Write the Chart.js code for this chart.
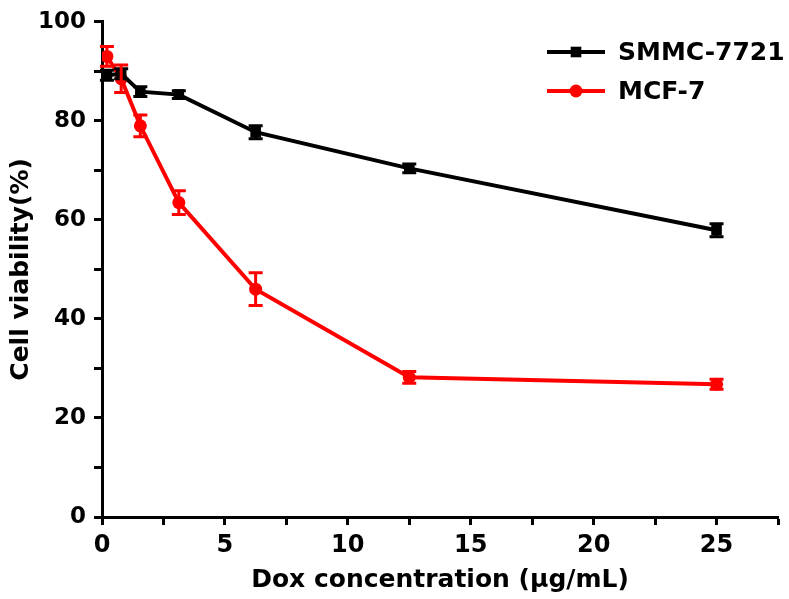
<!DOCTYPE html>
<html>
<head>
<meta charset="utf-8">
<script src="https://cdn.jsdelivr.net/npm/chart.js@4.4.1/dist/chart.umd.min.js"></script>
<style>
  html, body { margin: 0; padding: 0; background: #fff; }
  #wrap { width: 789px; height: 599px; }
</style>
</head>
<body>
<div id="wrap"><canvas id="grafico" width="789" height="599"></canvas></div>
<script>
// ==========================
// dados
// ==========================
const concentracoes = [0.2, 0.78, 1.56, 3.125, 6.25, 12.5, 25];

const smmcValores = [89.2, 89.5, 85.9, 85.3, 77.7, 70.4, 57.9];
const smmcErros   = [1.0, 1.0, 1.0, 0.8, 1.3, 0.9, 1.3];

const mcfValores = [93.0, 88.5, 79.0, 63.5, 46.0, 28.2, 26.8];
const mcfErros   = [2.0, 2.8, 2.2, 2.4, 3.3, 1.2, 1.0];

const xTicks = [0, 5, 10, 15, 20, 25];
const yTicks = [0, 20, 40, 60, 80, 100];

const FONTE = "'DejaVu Sans', 'Liberation Sans', Arial, sans-serif";

function pontos(xs, ys) {
  return xs.map((x, i) => ({ x: x, y: ys[i] }));
}

// barras de erro desenhadas com as escalas do próprio Chart.js
const barrasErro = {
  id: 'barrasErro',
  afterDatasetsDraw(chart) {
    const ctx = chart.ctx;
    const yScale = chart.scales.y;
    chart.data.datasets.forEach((ds, i) => {
      const meta = chart.getDatasetMeta(i);
      ctx.save();
      ctx.strokeStyle = ds.borderColor;
      ctx.lineWidth = 3;
      meta.data.forEach((pt, j) => {
        const v = ds.data[j].y;
        const e = ds.erros[j];
        const yTop = yScale.getPixelForValue(v + e);
        const yBot = yScale.getPixelForValue(v - e);
        ctx.beginPath();
        ctx.moveTo(pt.x, yTop); ctx.lineTo(pt.x, yBot);
        ctx.moveTo(pt.x - 7, yTop); ctx.lineTo(pt.x + 7, yTop);
        ctx.moveTo(pt.x - 7, yBot); ctx.lineTo(pt.x + 7, yBot);
        ctx.stroke();
      });
      ctx.restore();
    });
  }
};

// legenda dentro da área do gráfico (canto superior direito)
const legendaInterna = {
  id: 'legendaInterna',
  afterDraw(chart) {
    const ctx = chart.ctx;
    ctx.save();
    chart.data.datasets.forEach((ds, i) => {
      const y = 52 + i * 39;
      ctx.strokeStyle = ds.borderColor;
      ctx.lineWidth = 4;
      ctx.beginPath();
      ctx.moveTo(547, y); ctx.lineTo(605, y);
      ctx.stroke();
      ctx.fillStyle = ds.borderColor;
      if (ds.pointStyle === 'circle') {
        ctx.beginPath(); ctx.arc(576, y, ds.pointRadius, 0, Math.PI * 2); ctx.fill();
      } else {
        const s = ds.pointRadius * Math.SQRT1_2;
        ctx.fillRect(576 - s, y - s, 2 * s, 2 * s);
      }
      ctx.fillStyle = '#000';
      ctx.font = 'bold 25px ' + FONTE;
      ctx.textBaseline = 'middle';
      ctx.textAlign = 'left';
      ctx.fillText(ds.label, 618, y + 1);
    });
    ctx.restore();
  }
};

new Chart(document.getElementById('grafico'), {
  type: 'line',
  data: {
    datasets: [
      {
        label: 'SMMC-7721',
        data: pontos(concentracoes, smmcValores),
        erros: smmcErros,
        borderColor: '#000000',
        backgroundColor: '#000000',
        borderWidth: 4,
        pointStyle: 'rect',
        pointRadius: 7.5,
        pointBorderWidth: 0,
        tension: 0
      },
      {
        label: 'MCF-7',
        data: pontos(concentracoes, mcfValores),
        erros: mcfErros,
        borderColor: '#ff0000',
        backgroundColor: '#ff0000',
        borderWidth: 4,
        pointStyle: 'circle',
        pointRadius: 6.5,
        pointBorderWidth: 0,
        tension: 0
      }
    ]
  },
  options: {
    responsive: false,
    animation: false,
    events: [],
    layout: { padding: { left: 0, top: 17, right: 11, bottom: 0 } },
    plugins: {
      legend: { display: false },
      tooltip: { enabled: false }
    },
    scales: {
      x: {
        type: 'linear',
        min: 0,
        max: 27.5,
        afterFit: s => { s.height = 82; },
        afterBuildTicks: s => {
          s.ticks = [];
          for (let v = 0; v <= 27.5; v += 2.5) s.ticks.push({ value: v });
        },
        ticks: {
          autoSkip: false,
          maxRotation: 0,
          padding: 6,
          color: '#000',
          font: { family: FONTE, size: 24, weight: 'bold' },
          callback: v => xTicks.includes(v) ? String(v) : ''
        },
        grid: { drawOnChartArea: false, drawTicks: true, tickLength: 8, tickWidth: 3, tickColor: '#000' },
        border: { display: true, color: '#000', width: 3 },
        title: {
          display: true,
          text: 'Dox concentration (μg/mL)',
          color: '#000',
          font: { family: FONTE, size: 25, weight: 'bold' },
          padding: { top: 0, bottom: 4 }
        }
      },
      y: {
        min: 0,
        max: 100,
        afterFit: s => { s.width = 102; },
        afterBuildTicks: s => {
          s.ticks = [];
          for (let v = 0; v <= 100; v += 10) s.ticks.push({ value: v });
        },
        ticks: {
          autoSkip: false,
          padding: 8,
          color: '#000',
          font: { family: FONTE, size: 23, weight: 'bold' },
          callback: v => yTicks.includes(v) ? String(v) : ''
        },
        grid: { drawOnChartArea: false, drawTicks: true, tickLength: 8, tickWidth: 3, tickColor: '#000' },
        border: { display: true, color: '#000', width: 3 },
        title: {
          display: true,
          text: 'Cell viability(%)',
          color: '#000',
          font: { family: FONTE, size: 25, weight: 'bold' },
          padding: { top: 6, bottom: 0 }
        }
      }
    }
  },
  plugins: [barrasErro, legendaInterna]
});
</script>
</body>
</html>
